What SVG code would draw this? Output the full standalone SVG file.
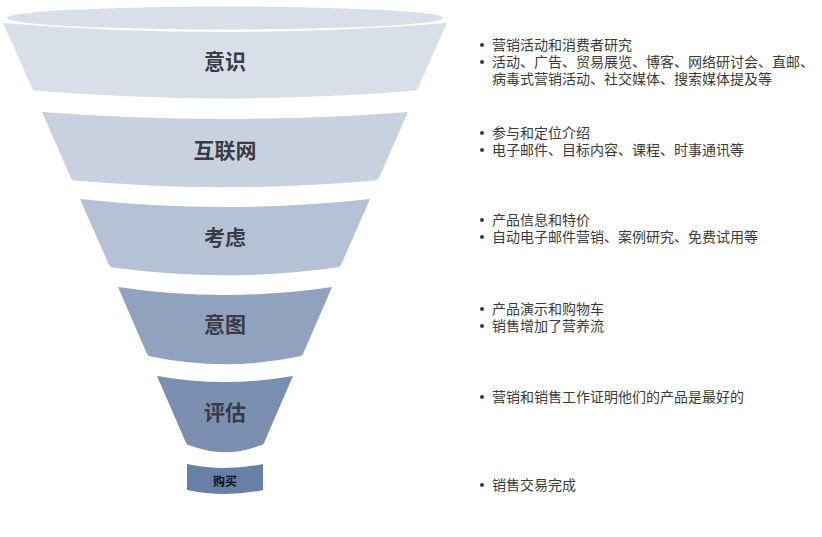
<svg xmlns="http://www.w3.org/2000/svg" width="822" height="537" viewBox="0 0 822 537">
<style>
.lbl{font-family:"Noto Sans CJK SC","Noto Sans",sans-serif;font-size:21px;font-weight:bold;fill:#3a3b45;text-anchor:middle}
.small{font-family:"Noto Sans CJK SC","Noto Sans",sans-serif;font-size:12px;font-weight:bold;fill:#111;text-anchor:middle}
.txt{font-family:"Noto Sans CJK SC","Noto Sans",sans-serif;font-size:14px;fill:#3a3a3a}
.dot{fill:#3a3a3a}
</style>
<rect width="822" height="537" fill="#ffffff"/>
<g id="stage1">
<path d="M3,23 Q225,41 447,23 L418,88 Q417,90.5 414,90.8 Q225,106 36,90.8 Q33,90.5 32,88 Z" fill="#d9dfe9"/>
<ellipse cx="225" cy="18" rx="218" ry="11.5" fill="#d9dfe9"/>
<text class="lbl" x="225" y="69">意识</text>
</g>
<g id="stage2">
<path d="M42,112 Q225,126 408,112 L379,178 Q378,180.3 375,180.6 Q225,194 75,180.6 Q72,180.3 71,178 Z" fill="#c8d1df"/>
<text class="lbl" x="225" y="158">互联网</text>
</g>
<g id="stage3">
<path d="M80,199 Q225,215 370,199 L341,265 Q340,267.3 337,267.6 Q225,283 113,267.6 Q110,267.3 109,265 Z" fill="#b5c1d4"/>
<text class="lbl" x="225" y="245">考虑</text>
</g>
<g id="stage4">
<path d="M118,287 Q225,303 332,287 L303,354 Q302,356.3 299,356.6 Q225,372 151,356.6 Q148,356.3 147,354 Z" fill="#91a2bf"/>
<text class="lbl" x="225" y="332">意图</text>
</g>
<g id="stage5">
<path d="M157,376 Q225,388 293,376 L264,443 Q263,445.3 260,445.6 Q225,459 190,445.6 Q187,445.3 186,443 Z" fill="#7b8fb1"/>
<text class="lbl" x="225" y="420">评估</text>
</g>
<g id="stage6">
<path d="M187,464 Q225,472 263,464 L263,490 Q225,498 187,490 Z" fill="#6880a6"/>
<text class="small" x="225" y="486">购买</text>
</g>
<g id="notes1">
<circle class="dot" cx="482" cy="45" r="2"/>
<circle class="dot" cx="482" cy="62" r="2"/>
<text class="txt" x="492" y="50">营销活动和消费者研究</text>
<text class="txt" x="492" y="67">活动、广告、贸易展览、博客、网络研讨会、直邮、</text>
<text class="txt" x="492" y="84">病毒式营销活动、社交媒体、搜索媒体提及等</text>
</g>
<g id="notes2">
<circle class="dot" cx="482" cy="133" r="2"/>
<circle class="dot" cx="482" cy="150" r="2"/>
<text class="txt" x="492" y="138">参与和定位介绍</text>
<text class="txt" x="492" y="155">电子邮件、目标内容、课程、时事通讯等</text>
</g>
<g id="notes3">
<circle class="dot" cx="482" cy="220" r="2"/>
<circle class="dot" cx="482" cy="237" r="2"/>
<text class="txt" x="492" y="225">产品信息和特价</text>
<text class="txt" x="492" y="242">自动电子邮件营销、案例研究、免费试用等</text>
</g>
<g id="notes4">
<circle class="dot" cx="482" cy="309" r="2"/>
<circle class="dot" cx="482" cy="326" r="2"/>
<text class="txt" x="492" y="314">产品演示和购物车</text>
<text class="txt" x="492" y="331">销售增加了营养流</text>
</g>
<g id="notes5">
<circle class="dot" cx="482" cy="397" r="2"/>
<text class="txt" x="492" y="402">营销和销售工作证明他们的产品是最好的</text>
</g>
<g id="notes6">
<circle class="dot" cx="482" cy="485" r="2"/>
<text class="txt" x="492" y="490">销售交易完成</text>
</g>
</svg>
